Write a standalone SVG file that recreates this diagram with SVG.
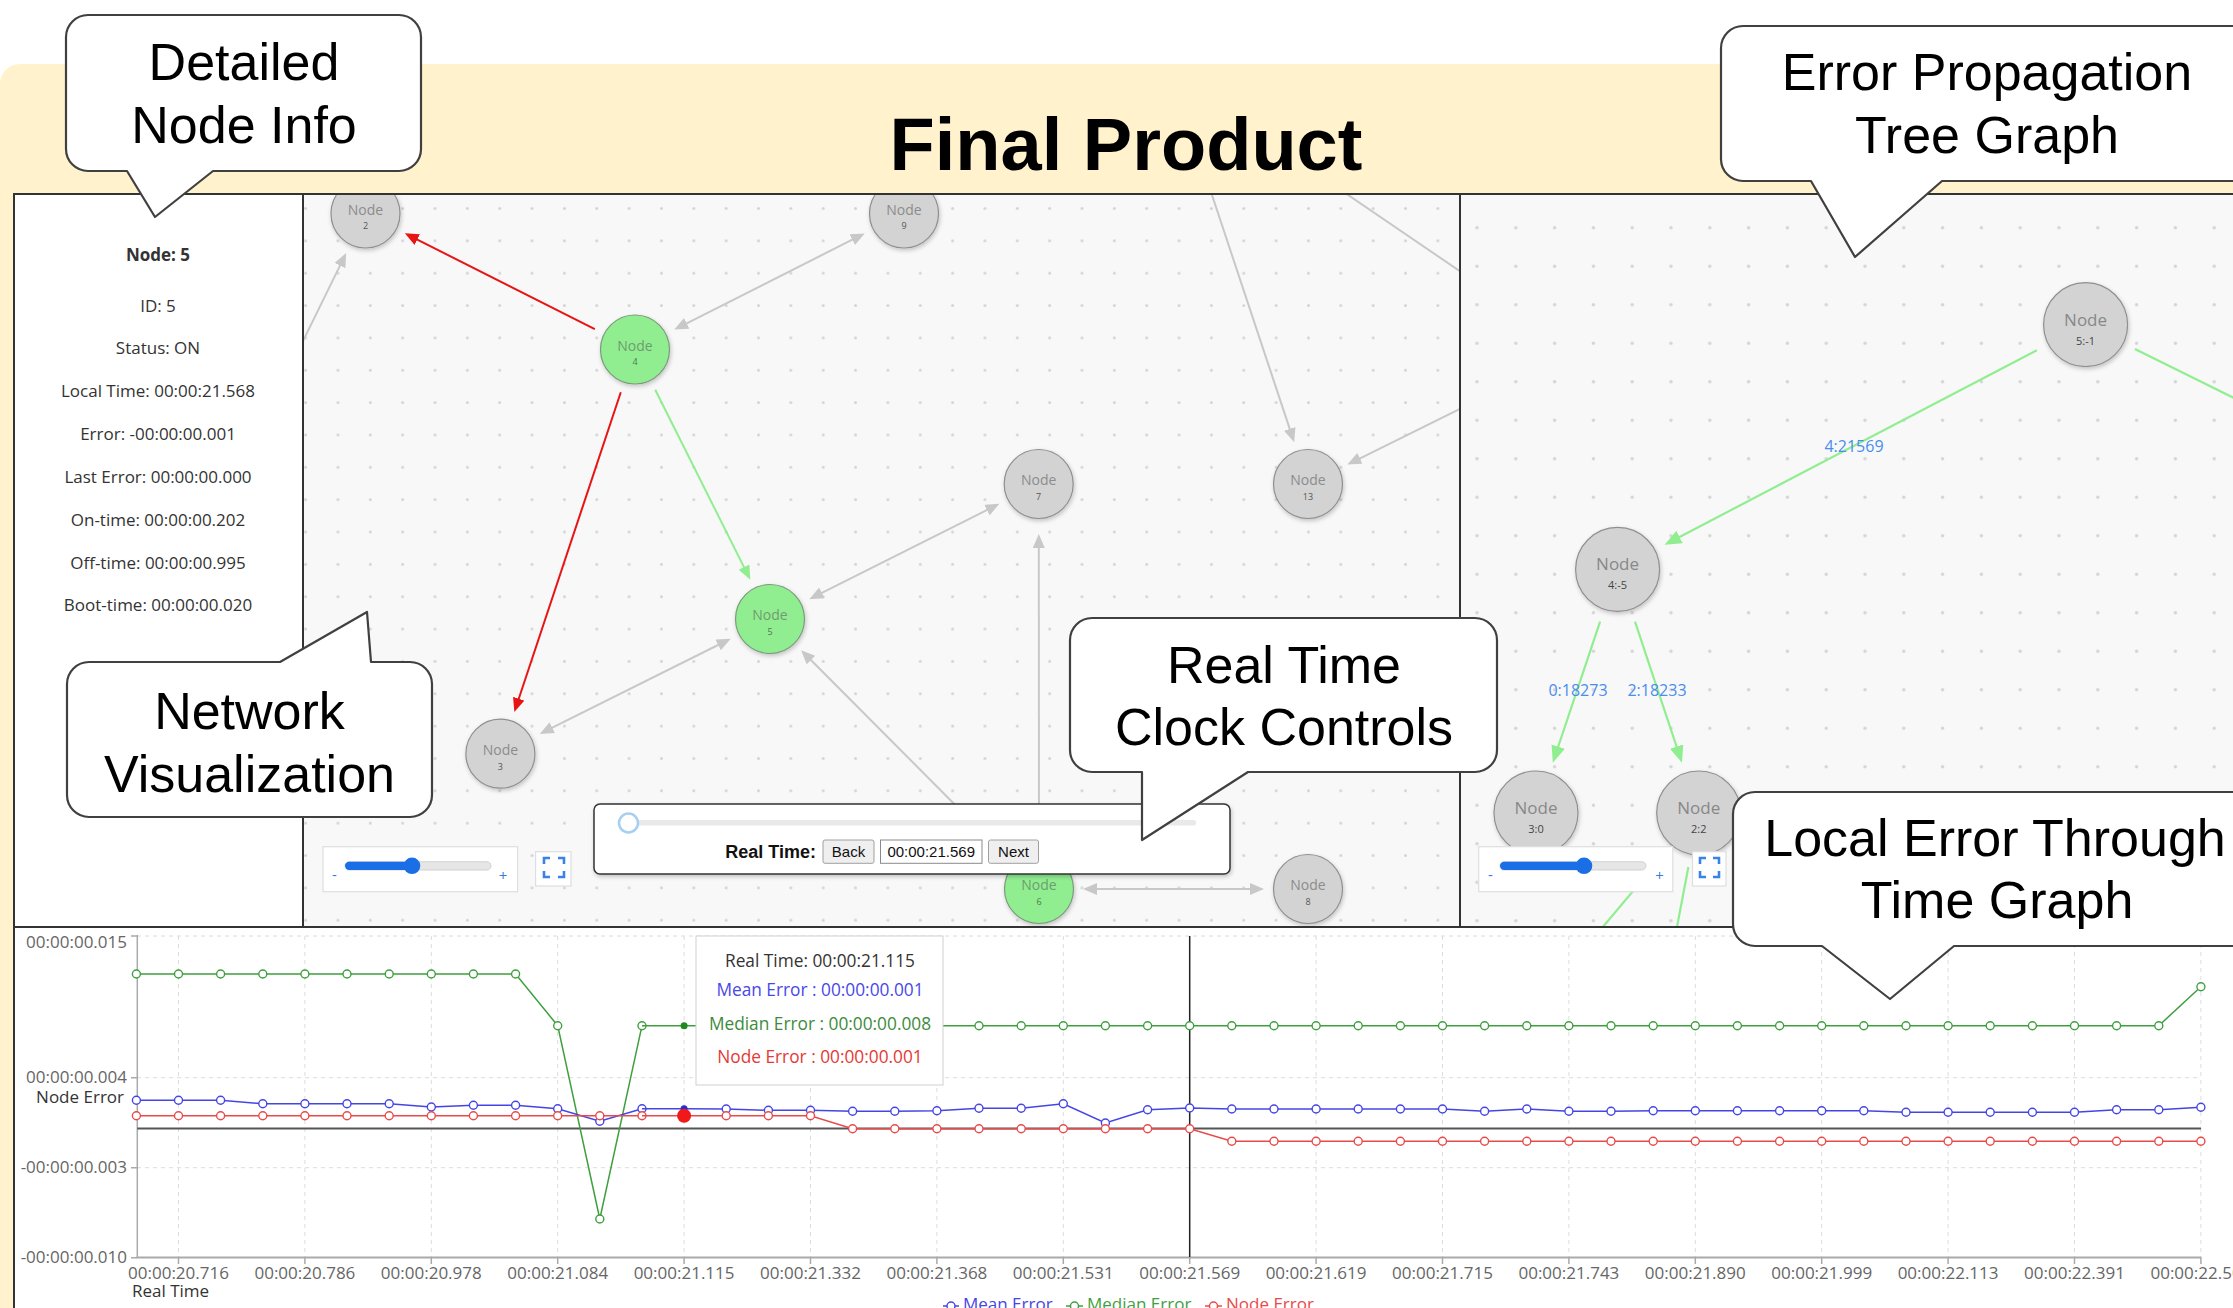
<svg xmlns="http://www.w3.org/2000/svg" width="2233" height="1308" viewBox="0 0 2233 1308">
<style>
  .bubble{fill:#fff;stroke:#404040;stroke-width:2.2;stroke-linejoin:round}
  .btxt{font-family:"Liberation Sans",Arial,sans-serif;font-size:52px;fill:#000;text-anchor:middle}
  .info{font-family:"Open Sans","Noto Sans",sans-serif;font-size:17px;fill:#333;text-anchor:middle}
  .node circle{stroke:#8f8f8f;stroke-width:1.2;filter:url(#shadow)}
  .node.off circle{fill:#d3d3d3}
  .node.on circle{fill:#90ee90;stroke:#7b9b7b}
  .nlab{font-family:"Open Sans","Noto Sans",sans-serif;font-size:14px;text-anchor:middle;fill:#8c8c8c}
  .on .nlab{fill:#6f9c6f}
  .nnum{font-family:"Open Sans","Noto Sans",sans-serif;font-size:9px;text-anchor:middle;fill:#555}
  .on .nnum{fill:#4d7a4d}
  .tnode .nlab{font-size:17px;fill:#888}
  .tnode .nnum{font-size:11px;fill:#444}
  .eg{stroke:#c8c8c8;stroke-width:2;fill:none}
  .er{stroke:#e81414;stroke-width:2;fill:none}
  .egr{stroke:#90ee90;stroke-width:2;fill:none}
  .et{stroke:#90ee90;stroke-width:2.2;fill:none}
  .tlab{font-family:"Open Sans","Noto Sans",sans-serif;font-size:16px;fill:#4a8cf0;text-anchor:middle}
  .frame{stroke:#333;stroke-width:2;fill:none}
  .grid{stroke:#dcdcdc;stroke-width:1;stroke-dasharray:4 4;fill:none}
  .tick{font-family:"Open Sans","Noto Sans",sans-serif;font-size:17px;fill:#666}
  .axt{font-family:"Open Sans","Noto Sans",sans-serif;font-size:17px;fill:#333}
  .tip{font-family:"Open Sans","Noto Sans",sans-serif;font-size:17.3px;text-anchor:middle}
  .sg{stroke:#3f9f3f;stroke-width:1.5;fill:none}
  .sb{stroke:#4545e5;stroke-width:1.5;fill:none}
  .sr{stroke:#e84a4a;stroke-width:1.5;fill:none}
  .btn{font-family:"Liberation Sans",Arial,sans-serif;font-size:15px;fill:#111;text-anchor:middle}
  .zsign{font-family:"Open Sans","Noto Sans",sans-serif;font-size:15px;fill:#3b7be0;text-anchor:middle}
</style>
<defs>
  <filter id="shadow" x="-30%" y="-30%" width="160%" height="160%">
    <feDropShadow dx="1" dy="2" stdDeviation="2" flood-color="#000" flood-opacity="0.22"/>
  </filter>
  <marker id="aGray" markerUnits="userSpaceOnUse" markerWidth="16" markerHeight="14" refX="10" refY="6" orient="auto-start-reverse">
    <path d="M0,0 L14,6 L0,12 z" fill="#c8c8c8"/>
  </marker>
  <marker id="aRed" markerUnits="userSpaceOnUse" markerWidth="16" markerHeight="14" refX="10" refY="6" orient="auto-start-reverse">
    <path d="M0,0 L14,6 L0,12 z" fill="#e81414"/>
  </marker>
  <marker id="aGreen" markerUnits="userSpaceOnUse" markerWidth="16" markerHeight="14" refX="10" refY="6" orient="auto-start-reverse">
    <path d="M0,0 L14,6 L0,12 z" fill="#90ee90"/>
  </marker>
  <marker id="aTree" markerUnits="userSpaceOnUse" markerWidth="20" markerHeight="16" refX="12" refY="7" orient="auto">
    <path d="M0,0 L17,7 L0,14 z" fill="#90ee90"/>
  </marker>
  <marker id="mG" markerUnits="userSpaceOnUse" markerWidth="12" markerHeight="12" refX="6" refY="6">
    <circle cx="6" cy="6" r="4" fill="#fff" stroke="#3f9f3f" stroke-width="1.4"/>
  </marker>
  <marker id="mB" markerUnits="userSpaceOnUse" markerWidth="12" markerHeight="12" refX="6" refY="6">
    <circle cx="6" cy="6" r="4" fill="#fff" stroke="#4545e5" stroke-width="1.4"/>
  </marker>
  <marker id="mR" markerUnits="userSpaceOnUse" markerWidth="12" markerHeight="12" refX="6" refY="6">
    <circle cx="6" cy="6" r="4" fill="#fff" stroke="#e84a4a" stroke-width="1.4"/>
  </marker>
  <pattern id="dotsNet" patternUnits="userSpaceOnUse" x="321.8" y="192.3" width="32.35" height="32.35">
    <circle cx="16.175" cy="16.175" r="1.5" fill="#d4d4d4"/>
  </pattern>
  <pattern id="dotsTree" patternUnits="userSpaceOnUse" x="1457.6" y="208.5" width="38.8" height="38.5">
    <circle cx="19.4" cy="19.25" r="1.7" fill="#d4d4d4"/>
  </pattern>
  <clipPath id="clipNet"><rect x="303" y="194" width="1157" height="733"/></clipPath>
  <clipPath id="clipTree"><rect x="1460" y="194" width="773" height="733"/></clipPath>
  <clipPath id="clipChart"><rect x="14" y="927" width="2219" height="381"/></clipPath>
</defs>

<!-- page background -->
<rect x="0" y="0" width="2233" height="1308" fill="#fff"/>
<rect x="0" y="64" width="2280" height="1300" rx="20" fill="#fff2cc"/>
<text x="1126" y="170" font-family="'Liberation Sans',Arial,sans-serif" font-size="74" font-weight="bold" text-anchor="middle" fill="#000">Final Product</text>

<!-- node detail panel -->
<g id="info-panel">
  <rect x="14" y="194" width="289" height="733" fill="#fff"/>
  <text x="158" y="261" class="info" font-weight="bold" fill="#111">Node: 5</text>
  <text x="158" y="312" class="info">ID: 5</text>
  <text x="158" y="354" class="info">Status: ON</text>
  <text x="158" y="397" class="info">Local Time: 00:00:21.568</text>
  <text x="158" y="440" class="info">Error: -00:00:00.001</text>
  <text x="158" y="483" class="info">Last Error: 00:00:00.000</text>
  <text x="158" y="526" class="info">On-time: 00:00:00.202</text>
  <text x="158" y="569" class="info">Off-time: 00:00:00.995</text>
  <text x="158" y="611" class="info">Boot-time: 00:00:00.020</text>
</g>

<!-- network view -->
<g id="network" clip-path="url(#clipNet)">
  <rect x="303" y="194" width="1157" height="733" fill="#f8f8f8"/>
  <rect x="303" y="194" width="1157" height="733" fill="url(#dotsNet)"/>
  <g id="net-edges">
    <line class="er" x1="594.8" y1="329.2" x2="408.4" y2="235.1" marker-end="url(#aRed)"/>
    <line class="er" x1="620.8" y1="392.2" x2="515.6" y2="708.2" marker-end="url(#aRed)"/>
    <line class="egr" x1="655.2" y1="389.7" x2="748.5" y2="576.1" marker-end="url(#aGreen)"/>
    <line class="eg" x1="861.2" y1="235.2" x2="677.8" y2="327.8" marker-start="url(#aGray)" marker-end="url(#aGray)"/>
    <line class="eg" x1="255.5" y1="438" x2="344.4" y2="256.6" marker-end="url(#aGray)"/>
    <line class="eg" x1="995.8" y1="505.6" x2="812.9" y2="597.4" marker-start="url(#aGray)" marker-end="url(#aGray)"/>
    <line class="eg" x1="543.3" y1="732.2" x2="727.1" y2="640.5" marker-start="url(#aGray)" marker-end="url(#aGray)"/>
    <line class="eg" x1="1005.1" y1="855" x2="803.9" y2="653" marker-start="url(#aGray)" marker-end="url(#aGray)"/>
    <line class="eg" x1="1039" y1="841" x2="1038.8" y2="538" marker-start="url(#aGray)" marker-end="url(#aGray)"/>
    <line class="eg" x1="1087" y1="889" x2="1260" y2="889" marker-start="url(#aGray)" marker-end="url(#aGray)"/>
    <line class="eg" x1="1207" y1="180" x2="1292.9" y2="438.4" marker-end="url(#aGray)"/>
    <line class="eg" x1="1340.8" y1="190" x2="1464" y2="274"/>
    <line class="eg" x1="1487" y1="395.5" x2="1351" y2="462.8" marker-end="url(#aGray)"/>
  </g>
  <g id="net-node-2" class="node off"><circle cx="365.5" cy="213.5" r="34.5"/><text x="365.5" y="214.7" class="nlab">Node</text><text x="365.5" y="229.3" class="nnum">2</text></g>
  <g id="net-node-9" class="node off"><circle cx="904" cy="213.5" r="34.5"/><text x="904" y="214.7" class="nlab">Node</text><text x="904" y="229.3" class="nnum">9</text></g>
  <g id="net-node-4" class="node on"><circle cx="635" cy="349.5" r="34.5"/><text x="635" y="350.7" class="nlab">Node</text><text x="635" y="365.3" class="nnum">4</text></g>
  <g id="net-node-5" class="node on"><circle cx="770" cy="619" r="34.5"/><text x="770" y="620.2" class="nlab">Node</text><text x="770" y="634.8" class="nnum">5</text></g>
  <g id="net-node-7" class="node off"><circle cx="1038.7" cy="484" r="34.5"/><text x="1038.7" y="485.2" class="nlab">Node</text><text x="1038.7" y="499.8" class="nnum">7</text></g>
  <g id="net-node-13" class="node off"><circle cx="1308" cy="484" r="34.5"/><text x="1308" y="485.2" class="nlab">Node</text><text x="1308" y="499.8" class="nnum">13</text></g>
  <g id="net-node-3" class="node off"><circle cx="500.4" cy="753.7" r="34.5"/><text x="500.4" y="754.9" class="nlab">Node</text><text x="500.4" y="769.5" class="nnum">3</text></g>
  <g id="net-node-6" class="node on"><circle cx="1039" cy="889" r="34.5"/><text x="1039" y="890.2" class="nlab">Node</text><text x="1039" y="904.8" class="nnum">6</text></g>
  <g id="net-node-8" class="node off"><circle cx="1308" cy="889" r="34.5"/><text x="1308" y="890.2" class="nlab">Node</text><text x="1308" y="904.8" class="nnum">8</text></g>

  <g id="net-zoom">
    <rect x="323" y="846.7" width="194.6" height="45" fill="#fff" stroke="#dedede" stroke-width="1.2"/>
    <rect x="345" y="861.7" width="146" height="8.3" rx="4.15" fill="#e6e6e6" stroke="#c8c8c8" stroke-width="0.8"/>
    <rect x="345" y="861.7" width="67" height="8.3" rx="4.15" fill="#1a6fe6"/>
    <circle cx="412" cy="865.8" r="8.3" fill="#1a6fe6"/>
    <text x="334.5" y="880" class="zsign">-</text>
    <text x="503" y="881" class="zsign">+</text>
  </g>
  <g id="net-fullscreen">
    <rect x="535.6" y="851.7" width="35.4" height="34.3" fill="#fff" stroke="#dedede" stroke-width="1.2"/>
    <path d="M544,864 V858 H550 M558,858 H564 V864 M564,871 V877 H558 M550,877 H544 V871" stroke="#3b82e6" stroke-width="2.6" fill="none"/>
  </g>

  <g id="clock-controls">
    <rect x="594" y="804" width="636" height="70" rx="6" fill="#fff" stroke="#333" stroke-width="1.5" filter="url(#shadow)"/>
    <rect x="636" y="820" width="560" height="5.5" rx="2.5" fill="#e9e9e9"/>
    <circle cx="628.5" cy="823" r="9.5" fill="#fff" stroke="#a6cff2" stroke-width="2.5"/>
    <text x="816" y="858" font-family="'Liberation Sans',Arial,sans-serif" font-size="18" font-weight="bold" text-anchor="end" fill="#111">Real Time:</text>
    <rect x="823" y="840" width="51" height="23.3" rx="2" fill="#efefef" stroke="#a0a0a0"/>
    <text x="848.5" y="857" class="btn">Back</text>
    <rect x="880.5" y="840" width="101.5" height="23.3" fill="#fff" stroke="#8a8a8a"/>
    <text x="931.2" y="857" class="btn" font-size="16">00:00:21.569</text>
    <rect x="988.5" y="840" width="50" height="23.3" rx="2" fill="#efefef" stroke="#a0a0a0"/>
    <text x="1013.5" y="857" class="btn">Next</text>
  </g>
</g>

<!-- propagation tree view -->
<g id="tree" clip-path="url(#clipTree)">
  <rect x="1460" y="194" width="773" height="733" fill="#f8f8f8"/>
  <rect x="1460" y="194" width="773" height="733" fill="url(#dotsTree)"/>
  <g id="tree-edges">
    <line class="et" x1="2036.9" y1="350.2" x2="1669" y2="542.5" marker-end="url(#aTree)"/>
    <line class="et" x1="2134.9" y1="349" x2="2300" y2="430.5"/>
    <line class="et" x1="1600.1" y1="621.6" x2="1554.4" y2="758" marker-end="url(#aTree)"/>
    <line class="et" x1="1635" y1="621.6" x2="1680.4" y2="758" marker-end="url(#aTree)"/>
    <line class="et" x1="1663.3" y1="855.1" x2="1570" y2="966"/>
    <line class="et" x1="1688.4" y1="867" x2="1670.7" y2="960"/>
  </g>
  <text x="1854" y="452" class="tlab">4:21569</text>
  <text x="1578" y="696" class="tlab">0:18273</text>
  <text x="1657" y="696" class="tlab">2:18233</text>
  <g id="tree-node-5" class="node off tnode"><circle cx="2085.6" cy="324.7" r="42"/><text x="2085.6" y="325.5" class="nlab">Node</text><text x="2085.6" y="344.7" class="nnum">5:-1</text></g>
  <g id="tree-node-4" class="node off tnode"><circle cx="1617.6" cy="569.4" r="42"/><text x="1617.6" y="570.2" class="nlab">Node</text><text x="1617.6" y="589.4" class="nnum">4:-5</text></g>
  <g id="tree-node-3" class="node off tnode"><circle cx="1536" cy="813" r="42"/><text x="1536" y="813.8" class="nlab">Node</text><text x="1536" y="833" class="nnum">3:0</text></g>
  <g id="tree-node-2" class="node off tnode"><circle cx="1698.7" cy="813" r="42"/><text x="1698.7" y="813.8" class="nlab">Node</text><text x="1698.7" y="833" class="nnum">2:2</text></g>
  <g id="tree-zoom">
    <rect x="1478.7" y="846.7" width="194.1" height="45" fill="#fff" stroke="#dedede" stroke-width="1.2"/>
    <rect x="1500" y="861.7" width="146" height="8.3" rx="4.15" fill="#e6e6e6" stroke="#c8c8c8" stroke-width="0.8"/>
    <rect x="1500" y="861.7" width="84" height="8.3" rx="4.15" fill="#1a6fe6"/>
    <circle cx="1584" cy="865.8" r="8.3" fill="#1a6fe6"/>
    <text x="1490.5" y="880" class="zsign">-</text>
    <text x="1659.5" y="881" class="zsign">+</text>
  </g>
  <g id="tree-fullscreen">
    <rect x="1692.5" y="851.7" width="33.5" height="34.3" fill="#fff" stroke="#dedede" stroke-width="1.2"/>
    <path d="M1700,864 V858 H1706 M1713,858 H1719 V864 M1719,871 V877 H1713 M1706,877 H1700 V871" stroke="#3b82e6" stroke-width="2.6" fill="none"/>
  </g>
</g>

<!-- error over time chart -->
<g id="chart" clip-path="url(#clipChart)">
  <rect x="14" y="927" width="2219" height="381" fill="#fff"/>
  <g id="chart-grid">
    <path class="grid" d="M137,936 H2201 M137,1077.7 H2201 M137,1167.7 H2201"/>
    <path class="grid" d="M178.5,936 V1257 M304.9,936 V1257 M431.3,936 V1257 M557.7,936 V1257 M684.1,936 V1257 M810.5,936 V1257 M936.9,936 V1257 M1063.3,936 V1257 M1442.5,936 V1257 M1316.1,936 V1257 M1568.9,936 V1257 M1695.3,936 V1257 M1821.7,936 V1257 M1948.1,936 V1257 M2074.5,936 V1257 M2200.9,936 V1257"/>
  </g>
  <g id="chart-axes">
    <line x1="137.3" y1="935" x2="137.3" y2="1258" stroke="#aaa" stroke-width="1.5"/>
    <path d="M131,936 H137 M131,1077.7 H137 M131,1167.7 H137 M131,1257.7 H137" stroke="#aaa" stroke-width="1.5"/>
    <line x1="136.5" y1="1257.5" x2="2201" y2="1257.5" stroke="#aaa" stroke-width="2"/>
    <path d="M178.5,1257 V1264 M304.9,1257 V1264 M431.3,1257 V1264 M557.7,1257 V1264 M684.1,1257 V1264 M810.5,1257 V1264 M936.9,1257 V1264 M1063.3,1257 V1264 M1189.7,1257 V1264 M1316.1,1257 V1264 M1442.5,1257 V1264 M1568.9,1257 V1264 M1695.3,1257 V1264 M1821.7,1257 V1264 M1948.1,1257 V1264 M2074.5,1257 V1264 M2200.9,1257 V1264" stroke="#aaa" stroke-width="1.5"/>
    <line x1="137.3" y1="1128.5" x2="2201" y2="1128.5" stroke="#555" stroke-width="1.8"/>
    <line x1="1189.7" y1="936" x2="1189.7" y2="1257" stroke="#222" stroke-width="1.5"/>
    <g class="tick" text-anchor="end">
      <text x="127" y="948">00:00:00.015</text>
      <text x="127" y="1083">00:00:00.004</text>
      <text x="127" y="1173">-00:00:00.003</text>
      <text x="127" y="1263">-00:00:00.010</text>
    </g>
    <text x="124" y="1103" class="axt" text-anchor="end">Node Error</text>
    <g class="tick" text-anchor="middle">
      <text x="178.5" y="1279">00:00:20.716</text>
      <text x="304.9" y="1279">00:00:20.786</text>
      <text x="431.3" y="1279">00:00:20.978</text>
      <text x="557.7" y="1279">00:00:21.084</text>
      <text x="684.1" y="1279">00:00:21.115</text>
      <text x="810.5" y="1279">00:00:21.332</text>
      <text x="936.9" y="1279">00:00:21.368</text>
      <text x="1063.3" y="1279">00:00:21.531</text>
      <text x="1189.7" y="1279">00:00:21.569</text>
      <text x="1316.1" y="1279">00:00:21.619</text>
      <text x="1442.5" y="1279">00:00:21.715</text>
      <text x="1568.9" y="1279">00:00:21.743</text>
      <text x="1695.3" y="1279">00:00:21.890</text>
      <text x="1821.7" y="1279">00:00:21.999</text>
      <text x="1948.1" y="1279">00:00:22.113</text>
      <text x="2074.5" y="1279">00:00:22.391</text>
      <text x="2200.9" y="1279">00:00:22.505</text>
    </g>
    <text x="132" y="1297" class="axt">Real Time</text>
  </g>

  <!-- median error -->
  <g id="series-median">
    <polyline class="sg" marker-start="url(#mG)" marker-mid="url(#mG)" marker-end="url(#mG)" points="136.4,974 178.5,974 220.6,974 262.8,974 304.9,974 347,974 389.2,974 431.3,974 473.4,974 515.6,974 557.7,1025.7 599.8,1219 642,1025.7"/>
    <polyline class="sg" points="642,1025.7 684.1,1025.7 726.2,1025.7"/>
    <polyline class="sg" marker-start="url(#mG)" marker-mid="url(#mG)" marker-end="url(#mG)" points="726.2,1025.7 768.4,1025.7 810.5,1025.7 852.6,1025.7 894.8,1025.7 936.9,1025.7 979,1025.7 1021.2,1025.7 1063.3,1025.7 1105.4,1025.7 1147.6,1025.7 1189.7,1025.7 1231.8,1025.7 1274,1025.7 1316.1,1025.7 1358.2,1025.7 1400.4,1025.7 1442.5,1025.7 1484.6,1025.7 1526.8,1025.7 1568.9,1025.7 1611,1025.7 1653.2,1025.7 1695.3,1025.7 1737.4,1025.7 1779.6,1025.7 1821.7,1025.7 1863.8,1025.7 1906,1025.7 1948.1,1025.7 1990.2,1025.7 2032.4,1025.7 2074.5,1025.7 2116.6,1025.7 2158.8,1025.7 2200.9,986.7"/>
  </g>
  <!-- mean error -->
  <g id="series-mean">
    <polyline class="sb" marker-start="url(#mB)" marker-mid="url(#mB)" marker-end="url(#mB)" points="136.4,1100.3 178.5,1100.3 220.6,1100.3 262.8,1103.7 304.9,1103.7 347,1103.7 389.2,1103.7 431.3,1107 473.4,1105.3 515.6,1105.3 557.7,1108.7 599.8,1121.3 642,1108.7"/>
    <polyline class="sb" points="642,1108.7 684.1,1108.7 726.2,1109"/>
    <polyline class="sb" marker-start="url(#mB)" marker-mid="url(#mB)" marker-end="url(#mB)" points="726.2,1109 768.4,1110.3 810.5,1110.3 852.6,1111.3 894.8,1111.3 936.9,1110.7 979,1108.3 1021.2,1108.3 1063.3,1103.7 1105.4,1123 1147.6,1109.7 1189.7,1108 1231.8,1109 1274,1109 1316.1,1109 1358.2,1109 1400.4,1109 1442.5,1109 1484.6,1111.3 1526.8,1109 1568.9,1111.3 1611,1111.3 1653.2,1110.7 1695.3,1110.7 1737.4,1110.7 1779.6,1110.7 1821.7,1110.7 1863.8,1110.7 1906,1112.3 1948.1,1112.3 1990.2,1112.3 2032.4,1112.3 2074.5,1112.3 2116.6,1109.7 2158.8,1109.7 2200.9,1107.3"/>
  </g>
  <!-- node error -->
  <g id="series-node">
    <polyline class="sr" marker-start="url(#mR)" marker-mid="url(#mR)" marker-end="url(#mR)" points="136.4,1115.7 178.5,1115.7 220.6,1115.7 262.8,1115.7 304.9,1115.7 347,1115.7 389.2,1115.7 431.3,1115.7 473.4,1115.7 515.6,1115.7 557.7,1115.7 599.8,1115.7 642,1115.7"/>
    <polyline class="sr" points="642,1115.7 684.1,1115.7 726.2,1115.7"/>
    <polyline class="sr" marker-start="url(#mR)" marker-mid="url(#mR)" marker-end="url(#mR)" points="726.2,1115.7 768.4,1115.7 810.5,1115.7 852.6,1128.7 894.8,1128.7 936.9,1128.7 979,1128.7 1021.2,1128.7 1063.3,1128.7 1105.4,1128.7 1147.6,1128.7 1189.7,1128.7 1231.8,1141.3 1274,1141.3 1316.1,1141.3 1358.2,1141.3 1400.4,1141.3 1442.5,1141.3 1484.6,1141.3 1526.8,1141.3 1568.9,1141.3 1611,1141.3 1653.2,1141.3 1695.3,1141.3 1737.4,1141.3 1779.6,1141.3 1821.7,1141.3 1863.8,1141.3 1906,1141.3 1948.1,1141.3 1990.2,1141.3 2032.4,1141.3 2074.5,1141.3 2116.6,1141.3 2158.8,1141.3 2200.9,1141.3"/>
  </g>
  <!-- hovered sample -->
  <circle cx="684.1" cy="1025.7" r="3.5" fill="#1f8a1f"/>
  <circle cx="684.1" cy="1108.7" r="3.5" fill="#2b2bd6"/>
  <circle cx="684.1" cy="1115.7" r="7" fill="#f01818"/>

  <g id="tooltip">
    <rect x="696" y="936" width="247" height="149" fill="#fff" stroke="#cfcfcf"/>
    <text x="820" y="967" class="tip" fill="#333">Real Time: 00:00:21.115</text>
    <text x="820" y="996" class="tip" fill="#4848e8">Mean Error : 00:00:00.001</text>
    <text x="820" y="1030" class="tip" fill="#3d8b3d">Median Error : 00:00:00.008</text>
    <text x="820" y="1063" class="tip" fill="#e53935">Node Error : 00:00:00.001</text>
  </g>

  <g id="legend" font-family="'Open Sans','Noto Sans',sans-serif" font-size="17">
    <line x1="943" y1="1306" x2="959" y2="1306" class="sb"/><circle cx="951" cy="1306" r="4" fill="#fff" stroke="#4545e5" stroke-width="1.4"/>
    <text x="963" y="1310" fill="#4545e5">Mean Error</text>
    <line x1="1066" y1="1306" x2="1083" y2="1306" class="sg"/><circle cx="1074.5" cy="1306" r="4" fill="#fff" stroke="#3f9f3f" stroke-width="1.4"/>
    <text x="1087" y="1310" fill="#3f9f3f">Median Error</text>
    <line x1="1205" y1="1306" x2="1222" y2="1306" class="sr"/><circle cx="1213.5" cy="1306" r="4" fill="#fff" stroke="#e84a4a" stroke-width="1.4"/>
    <text x="1226" y="1310" fill="#e84a4a">Node Error</text>
  </g>
</g>

<!-- panel borders -->
<path class="frame" d="M14,1310 V194 H2240 M303,194 V927 M1460,194 V927 M14,927 H2240"/>

<!-- callouts -->
<g id="callout-node-info">
  <path class="bubble" d="M88,15 H399 A22,22 0 0 1 421,37 V149 A22,22 0 0 1 399,171 H213 L155,217 L127,171 H88 A22,22 0 0 1 66,149 V37 A22,22 0 0 1 88,15 Z"/>
  <text x="244" y="80" class="btxt">Detailed</text>
  <text x="244" y="143" class="btxt">Node Info</text>
</g>
<g id="callout-tree">
  <path class="bubble" d="M1743,26 H2240 A22,22 0 0 1 2262,48 V159 A22,22 0 0 1 2240,181 H1942 L1855,257 L1811,181 H1743 A22,22 0 0 1 1721,159 V48 A22,22 0 0 1 1743,26 Z"/>
  <text x="1987" y="90" class="btxt">Error Propagation</text>
  <text x="1987" y="153" class="btxt">Tree Graph</text>
</g>
<g id="callout-network">
  <path class="bubble" d="M89,662 H280 L367,612 L371,662 H410 A22,22 0 0 1 432,684 V795 A22,22 0 0 1 410,817 H89 A22,22 0 0 1 67,795 V684 A22,22 0 0 1 89,662 Z"/>
  <text x="249.5" y="729" class="btxt">Network</text>
  <text x="249.5" y="792" class="btxt">Visualization</text>
</g>
<g id="callout-clock">
  <path class="bubble" d="M1092,618 H1475 A22,22 0 0 1 1497,640 V750 A22,22 0 0 1 1475,772 H1248 L1142,840 L1142,772 H1092 A22,22 0 0 1 1070,750 V640 A22,22 0 0 1 1092,618 Z"/>
  <text x="1284" y="683" class="btxt">Real Time</text>
  <text x="1284" y="745" class="btxt">Clock Controls</text>
</g>
<g id="callout-chart">
  <path class="bubble" d="M1755,792 H2240 A22,22 0 0 1 2262,814 V924 A22,22 0 0 1 2240,946 H1954 L1890,999 L1822,946 H1755 A22,22 0 0 1 1733,924 V814 A22,22 0 0 1 1755,792 Z"/>
  <text x="1995" y="856" class="btxt">Local Error Through</text>
  <text x="1997" y="918" class="btxt">Time Graph</text>
</g>
</svg>
